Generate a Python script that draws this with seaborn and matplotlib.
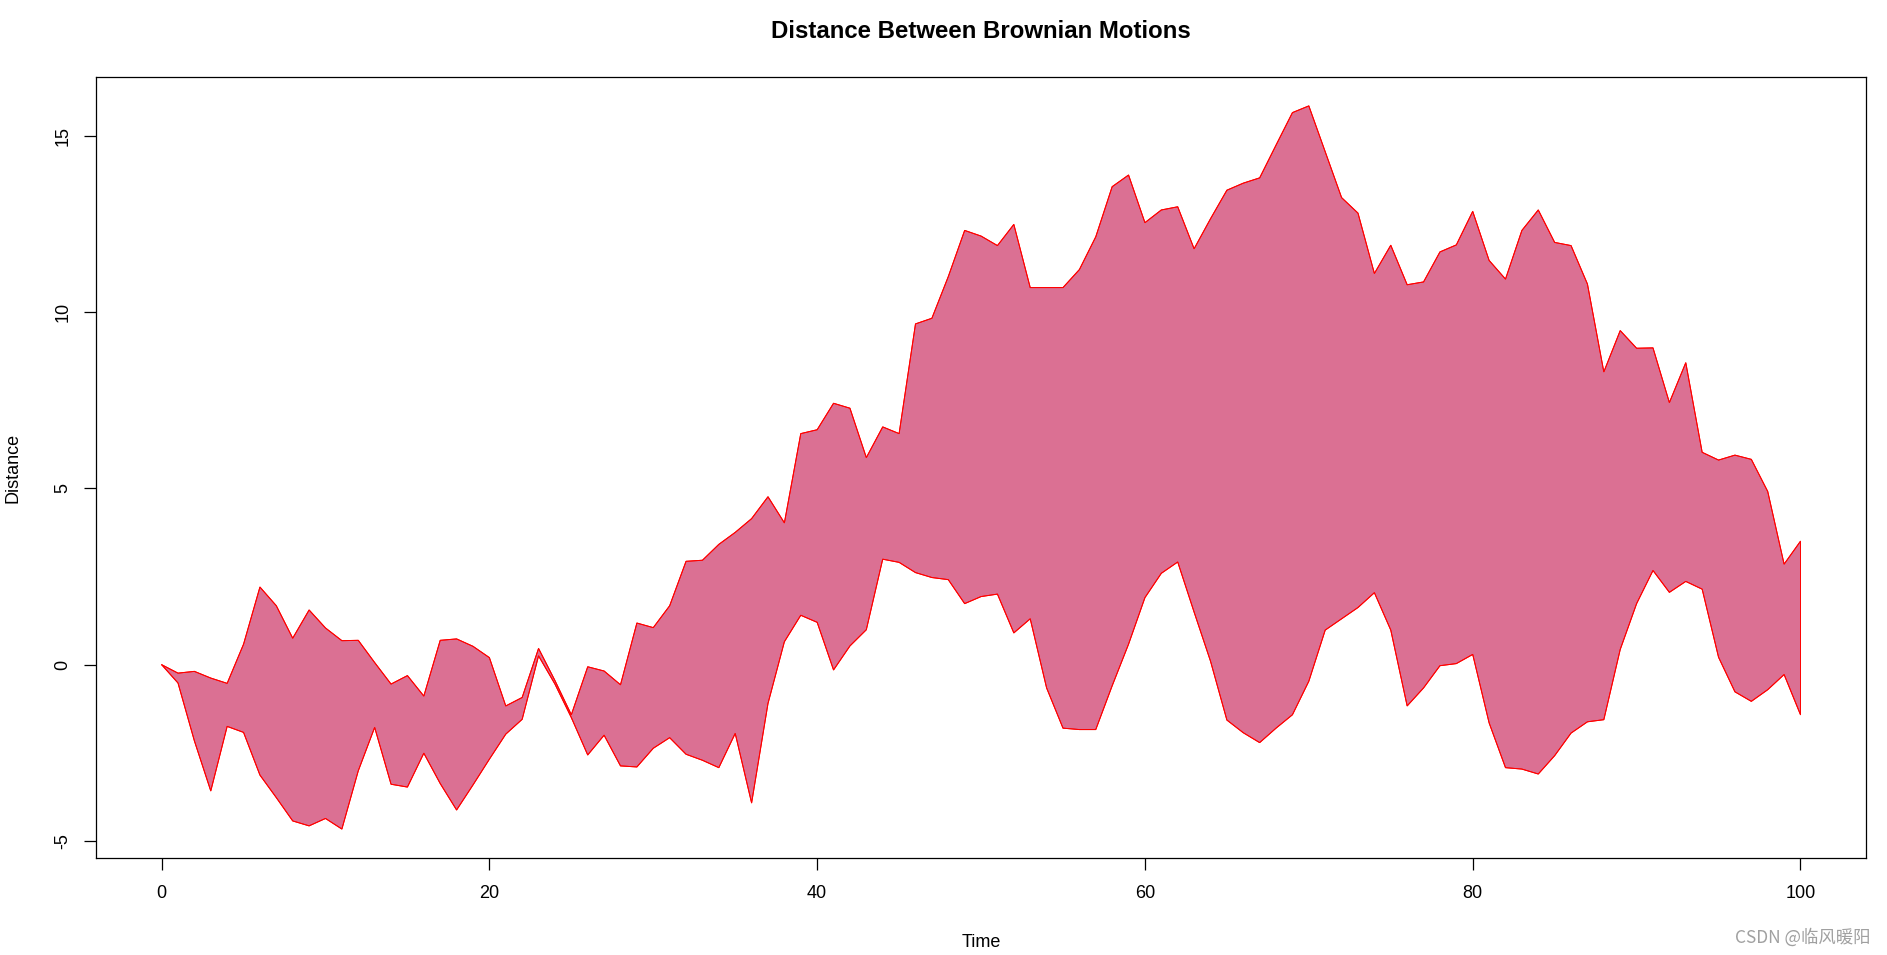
import numpy as np
import pandas as pd
import matplotlib
matplotlib.use("Agg")
import matplotlib.pyplot as plt
import seaborn as sns

# ---- data ----
time = list(range(0, 101))
motion_a = [0.00, -0.24, -0.19, -0.38, -0.53, 0.58, 2.20, 1.67, 0.75, 1.55,
            1.04, 0.68, 0.69, 0.06, -0.55, -0.31, -0.89, 0.69, 0.73, 0.52,
            0.20, -1.17, -0.93, 0.46, -0.45, -1.42, -0.06, -0.18, -0.57, 1.18,
            1.05, 1.67, 2.93, 2.96, 3.41, 3.75, 4.14, 4.76, 4.02, 6.55,
            6.66, 7.41, 7.27, 5.87, 6.74, 6.55, 9.66, 9.82, 11.00, 12.31,
            12.15, 11.88, 12.48, 10.69, 10.69, 10.69, 11.20, 12.13, 13.55, 13.88,
            12.53, 12.89, 12.98, 11.79, 12.64, 13.45, 13.65, 13.80, 14.73, 15.65,
            15.84, 14.54, 13.24, 12.80, 11.09, 11.89, 10.77, 10.85, 11.70, 11.90,
            12.85, 11.46, 10.93, 12.31, 12.89, 11.97, 11.88, 10.79, 8.30, 9.47,
            8.97, 8.98, 7.43, 8.56, 6.02, 5.80, 5.94, 5.82, 4.91, 2.85,
            3.50]
motion_b = [0.00, -0.52, -2.16, -3.58, -1.75, -1.92, -3.13, -3.77, -4.43, -4.57,
            -4.36, -4.66, -3.01, -1.78, -3.39, -3.47, -2.51, -3.37, -4.12, -3.41,
            -2.68, -1.97, -1.55, 0.25, -0.55, -1.50, -2.56, -2.00, -2.87, -2.90,
            -2.37, -2.07, -2.54, -2.71, -2.92, -1.95, -3.92, -1.10, 0.65, 1.40,
            1.20, -0.15, 0.53, 0.99, 2.99, 2.90, 2.61, 2.47, 2.41, 1.73,
            1.93, 2.00, 0.90, 1.30, -0.66, -1.80, -1.84, -1.84, -0.60, 0.58,
            1.90, 2.59, 2.91, 1.49, 0.10, -1.57, -1.93, -2.21, -1.80, -1.42,
            -0.47, 0.98, 1.30, 1.62, 2.04, 0.98, -1.17, -0.66, -0.03, 0.03,
            0.29, -1.65, -2.92, -2.96, -3.10, -2.58, -1.94, -1.62, -1.56, 0.43,
            1.73, 2.67, 2.05, 2.36, 2.14, 0.21, -0.77, -1.04, -0.71, -0.28,
            -1.42]
x_ticks = [0, 20, 40, 60, 80, 100]
y_ticks = [-5, 0, 5, 10, 15]

df = pd.DataFrame({"Time": time, "A": motion_a, "B": motion_b})

sns.set_theme(style="ticks")
plt.rcParams["font.family"] = ["Liberation Sans", "DejaVu Sans"]

fig = plt.figure(figsize=(18.87, 9.55), dpi=100)
ax = fig.add_axes([0.0509, 0.1016, 0.9380, 0.8178])

t = df["Time"].to_numpy()
poly_x = np.concatenate([t, t[::-1]])
poly_y = np.concatenate([df["A"].to_numpy(), df["B"].to_numpy()[::-1]])
ax.fill(poly_x, poly_y, facecolor="#DB7093", edgecolor="red", linewidth=0.7,
        zorder=2)
sns.lineplot(data=df, x="Time", y="A", color="red", linewidth=0.7, ax=ax,
             zorder=3)
sns.lineplot(data=df, x="Time", y="B", color="red", linewidth=0.7, ax=ax,
             zorder=3)

ax.set_xlim(-4, 104)
ax.set_ylim(-5.48, 16.66)
ax.set_xticks(x_ticks)
ax.set_yticks(y_ticks)
ax.set_xticklabels([str(v) for v in x_ticks])
ax.set_yticklabels([str(v) for v in y_ticks], rotation=90, va="center")

for s in ax.spines.values():
    s.set_visible(True)
    s.set_color("black")
    s.set_linewidth(0.9)

ax.tick_params(axis="both", direction="out", length=8.5, width=0.9,
               color="black", labelcolor="black", labelsize=13)
ax.tick_params(axis="x", pad=11)
ax.tick_params(axis="y", pad=9)

ax.set_xlabel("Time", fontsize=13, color="black", labelpad=23)
ax.set_ylabel("Distance", fontsize=13, color="black", labelpad=24)
ax.set_title("Distance Between Brownian Motions", fontsize=17.3,
             fontweight="bold", color="black", pad=28)

fig.text(0.9915, 0.0183, "CSDN @临风暖阳", ha="right", va="center",
         fontsize=12.5, color="#a0a0a0",
         family=["Noto Sans CJK SC", "DejaVu Sans"])

fig.savefig("out.png", dpi=100)
